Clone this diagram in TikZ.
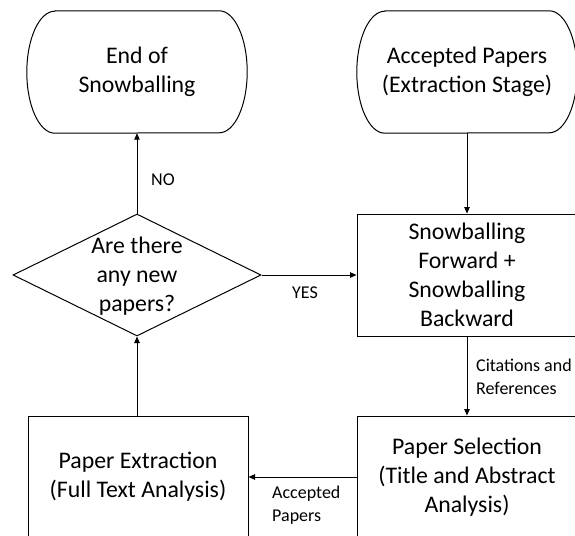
\documentclass[tikz,border=0pt]{standalone}
\usepackage{fontspec}
\setmainfont{Carlito}
\usetikzlibrary{shapes.geometric,arrows.meta}
\begin{document}
\begin{tikzpicture}[x=1pt,y=1pt,
  every node/.style={inner sep=0pt},
  big/.style={font=\fontsize{23.8}{29}\selectfont, align=center},
  small/.style={font=\fontsize{18}{22.5}\selectfont, align=left},
  proc/.style={big, draw, line width=1pt, minimum width=220pt, minimum height=122pt},
  term/.style={big, minimum width=220pt, minimum height=122pt},
  conn/.style={line width=1pt, -{Triangle[length=6.5pt,width=5.5pt]}},
  outline/.style={line width=1pt}
]
\useasboundingbox (0,0) rectangle (575,-535);
% terminals
\node[term] (endn) at (137,-72) {End of\\Snowballing};
\node[term] (acc) at (467,-72) {Accepted Papers\\(Extraction Stage)};
\foreach \n in {endn,acc}{
  \draw[outline] ([xshift=28pt]\n.north west) -- ([xshift=-28pt]\n.north east)
    arc[start angle=90,end angle=-90,x radius=28pt,y radius=61pt]
    -- ([xshift=28pt]\n.south west)
    arc[start angle=270,end angle=90,x radius=28pt,y radius=61pt] -- cycle;
}
% decision
\node[diamond, draw, line width=1pt, minimum width=248pt, minimum height=122pt] (dia) at (137,-275) {};
\node[big] (diatext) at (137,-276) {Are there\\any new\\papers?};
% process boxes
\node[proc] (snow) at (467,-275) {Snowballing\\Forward +\\Snowballing\\Backward};
\node[proc] (sel) at (467,-477) {Paper Selection\\(Title and Abstract\\Analysis)};
\node[proc] (ext) at (138,-477) {Paper Extraction\\(Full Text Analysis)};
% connectors
\draw[conn] (acc.south) -- (snow.north);
\draw[conn] (snow.south) -- (sel.north);
\draw[conn] (sel.west) -- (ext.east);
\draw[conn] (ext.north -| dia.south) -- (dia.south);
\draw[conn] (dia.east) -- (snow.west);
\draw[conn] (dia.north) -- (endn.south);
% labels
\node[small] (lno) at (163,-180) {NO};
\node[small] (lyes) at (305,-293) {YES};
\node[small, anchor=west] (lcit) at (476,-377) {Citations and\\References};
\node[small, anchor=west] (lacc) at (272,-505) {Accepted\\Papers};
\end{tikzpicture}
\end{document}
